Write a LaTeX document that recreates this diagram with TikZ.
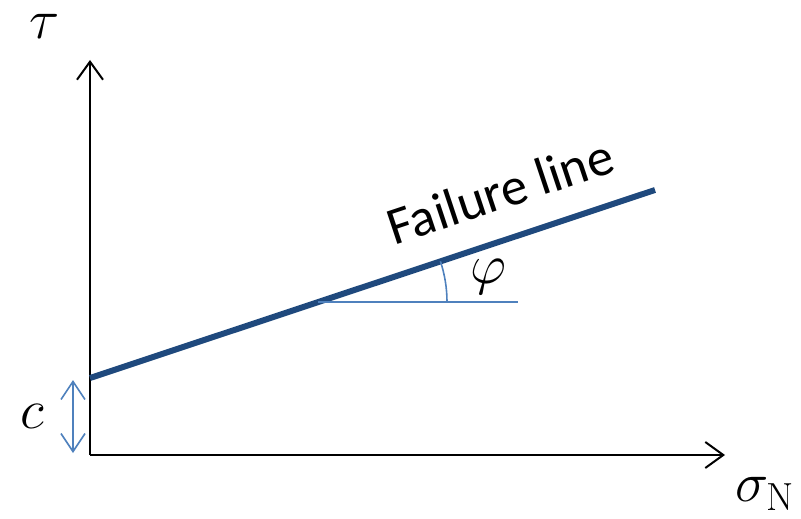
\RequirePackage{fix-cm}
\documentclass[tikz,border=0pt]{standalone}
\usepackage{fontspec}
\newfontfamily\calib{Carlito}
\usetikzlibrary{arrows.meta}

\definecolor{faildark}{RGB}{31,73,125}
\definecolor{thinblue}{RGB}{79,129,189}

\tikzset{
  axis/.style={black, line width=2, -{Straight Barb[length=18,width=26,line width=2]}},
  mathlabel/.style={font=\fontsize{56}{60}\selectfont},
}

\begin{document}
\begin{tikzpicture}[x=1pt,y=-1pt]
\useasboundingbox (0,0) rectangle (801,519);

% axes
\coordinate (O) at (90,455);
\coordinate (ytop) at (90,60);
\coordinate (xend) at (725,455);
\draw[axis] (O) -- (ytop);
\draw[axis] (O) -- (xend);

% failure line
\coordinate (cpt) at (90,378);
\coordinate (fend) at (655,190);
\draw[faildark, line width=6] (cpt) -- (fend);
\node[font=\calib\fontsize{53}{56}\selectfont, rotate=18.4] (fl) at (500,191) {Failure line};

% friction angle
\coordinate (m) at (318,302);
\coordinate (hend) at (518,302);
\draw[thinblue, line width=1.6] (m) -- (hend);
\draw[thinblue, line width=1.6] (447,302) arc[start angle=0, end angle=-18.4, radius=129];
\node[mathlabel] (phi) at (488,277) {$\varphi$};

% cohesion
\coordinate (ctop) at (73,380);
\coordinate (cbot) at (73,453);
\draw[thinblue, line width=1.6, {Straight Barb[length=18,width=24,line width=1.6]}-{Straight Barb[length=18,width=24,line width=1.6]}] (ctop) -- (cbot);
\node[mathlabel] (c) at (32,416) {$c$};

% axis labels
\node[mathlabel] (tau) at (45,26) {$\tau$};
\node[mathlabel] (sigma) at (765,494) {$\sigma_{\mathrm{N}}$};
\end{tikzpicture}
\end{document}
